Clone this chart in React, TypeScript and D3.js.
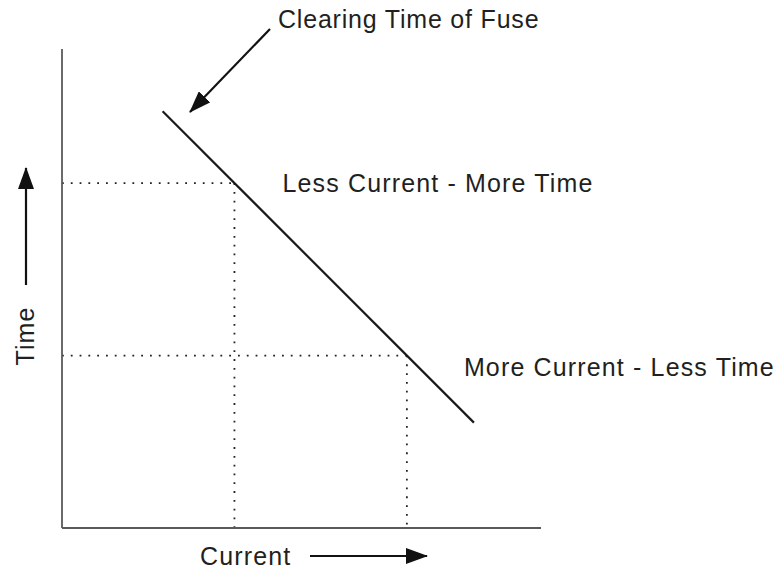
import React from 'react'
import * as d3 from 'd3'

// fuse clearing curve, abstract units (0-100 on both axes)
const curveCurrent = [21, 86]
const curveTime = [87, 22]

// the two marked operating points
const pointCurrent = [36, 72]
const pointTime = [72, 36]
const pointLabels = ['Less Current - More Time', 'More Current - Less Time']

const title = 'Clearing Time of Fuse'
const xLabel = 'Current'
const yLabel = 'Time'

const W = 781
const H = 571
const margin = { top: 49, right: 240, bottom: 43, left: 62 }
const font = '"Liberation Sans", Arial, sans-serif'

export default function App() {
  const x = d3.scaleLinear().domain([0, 100]).range([margin.left, W - margin.right])
  const y = d3.scaleLinear().domain([0, 100]).range([H - margin.bottom, margin.top])
  const line = d3.line<number>()
    .x((d, i) => x(curveCurrent[i]))
    .y((d, i) => y(curveTime[i]))

  const x0 = x(0)
  const y0 = y(0)
  const txt = { fontFamily: font, fontSize: 25, fill: '#231f20', letterSpacing: 1.15 }

  return (
    <svg width={W} height={H} style={{ position: 'absolute', left: 0, top: 0 }}>
      <defs>
        <marker id="head" viewBox="0 0 22 16" refX="21" refY="8"
          markerWidth="22" markerHeight="16" markerUnits="userSpaceOnUse" orient="auto">
          <path d="M0,0 L22,8 L0,16 Z" fill="#111" />
        </marker>
      </defs>

      {/* dotted guides */}
      {pointCurrent.map((c, i) => (
        <g key={i} stroke="#222" strokeWidth={1.8} strokeDasharray="1.8 7" fill="none">
          <line x1={x0} x2={x(c)} y1={y(pointTime[i])} y2={y(pointTime[i])} />
          <line x1={x(c)} x2={x(c)} y1={y(pointTime[i])} y2={y0} />
        </g>
      ))}

      {/* axes */}
      <line x1={x0} x2={x0} y1={y(100)} y2={y0} stroke="#5a5a5a" strokeWidth={1.8} />
      <line x1={x0} x2={x(100)} y1={y0} y2={y0} stroke="#5a5a5a" strokeWidth={1.8} />

      {/* curve */}
      <path d={line(curveCurrent) || ''} stroke="#1a1a1a" strokeWidth={2.2} fill="none" />

      {/* labels */}
      <text x={x(pointCurrent[0]) + 48} y={y(pointTime[0]) + 9} {...txt}>{pointLabels[0]}</text>
      <text x={x(pointCurrent[1]) + 57} y={y(pointTime[1]) + 20} {...txt}>{pointLabels[1]}</text>

      <text x={278} y={28} {...txt} letterSpacing={0.8}>{title}</text>
      <line x1={270} y1={29} x2={190} y2={112} stroke="#111" strokeWidth={2.2} markerEnd="url(#head)" />

      <text x={200} y={565} {...txt}>{xLabel}</text>
      <line x1={310} y1={556} x2={427} y2={556} stroke="#111" strokeWidth={2.2} markerEnd="url(#head)" />

      <text transform="translate(34,336) rotate(-90)" textAnchor="middle" {...txt}>{yLabel}</text>
      <line x1={26} y1={285} x2={26} y2={168} stroke="#111" strokeWidth={2.2} markerEnd="url(#head)" />
    </svg>
  )
}
